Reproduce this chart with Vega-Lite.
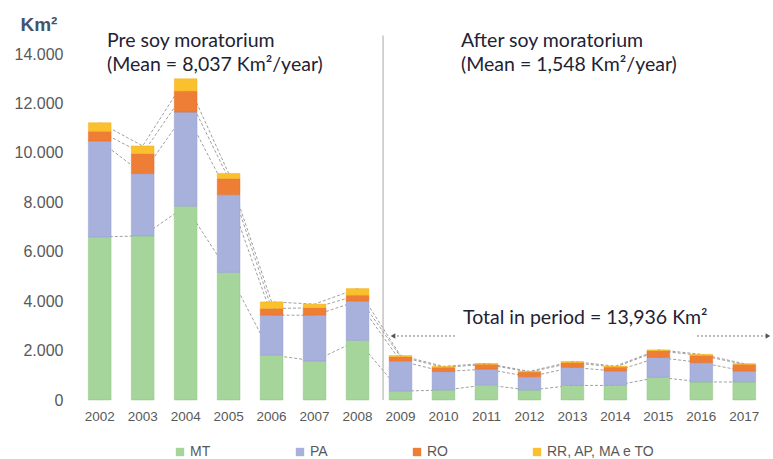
{
  "$schema": "https://vega.github.io/schema/vega-lite/v6.json",
  "width": 700,
  "height": 346,
  "autosize": "none",
  "padding": {"left": 72, "top": 54, "right": 1, "bottom": 59},
  "background": "#ffffff",
  "config": {
    "view": {"stroke": null},
    "font": "Liberation Sans",
    "axis": {"labelColor": "#595959", "labelFont": "Liberation Sans"}
  },
  "data": {
    "values": [
      {"year": "2002", "region": "MT", "k": 1, "value": 6600},
      {"year": "2002", "region": "PA", "k": 2, "value": 3880},
      {"year": "2002", "region": "RO", "k": 3, "value": 390},
      {"year": "2002", "region": "RR, AP, MA e TO", "k": 4, "value": 350},
      {"year": "2003", "region": "MT", "k": 1, "value": 6640},
      {"year": "2003", "region": "PA", "k": 2, "value": 2520},
      {"year": "2003", "region": "RO", "k": 3, "value": 810},
      {"year": "2003", "region": "RR, AP, MA e TO", "k": 4, "value": 310},
      {"year": "2004", "region": "MT", "k": 1, "value": 7840},
      {"year": "2004", "region": "PA", "k": 2, "value": 3810},
      {"year": "2004", "region": "RO", "k": 3, "value": 850},
      {"year": "2004", "region": "RR, AP, MA e TO", "k": 4, "value": 500},
      {"year": "2005", "region": "MT", "k": 1, "value": 5160},
      {"year": "2005", "region": "PA", "k": 2, "value": 3150},
      {"year": "2005", "region": "RO", "k": 3, "value": 650},
      {"year": "2005", "region": "RR, AP, MA e TO", "k": 4, "value": 210},
      {"year": "2006", "region": "MT", "k": 1, "value": 1820},
      {"year": "2006", "region": "PA", "k": 2, "value": 1610},
      {"year": "2006", "region": "RO", "k": 3, "value": 270},
      {"year": "2006", "region": "RR, AP, MA e TO", "k": 4, "value": 270},
      {"year": "2007", "region": "MT", "k": 1, "value": 1580},
      {"year": "2007", "region": "PA", "k": 2, "value": 1850},
      {"year": "2007", "region": "RO", "k": 3, "value": 300},
      {"year": "2007", "region": "RR, AP, MA e TO", "k": 4, "value": 150},
      {"year": "2008", "region": "MT", "k": 1, "value": 2410},
      {"year": "2008", "region": "PA", "k": 2, "value": 1590},
      {"year": "2008", "region": "RO", "k": 3, "value": 240},
      {"year": "2008", "region": "RR, AP, MA e TO", "k": 4, "value": 270},
      {"year": "2009", "region": "MT", "k": 1, "value": 360},
      {"year": "2009", "region": "PA", "k": 2, "value": 1220},
      {"year": "2009", "region": "RO", "k": 3, "value": 170},
      {"year": "2009", "region": "RR, AP, MA e TO", "k": 4, "value": 50},
      {"year": "2010", "region": "MT", "k": 1, "value": 400},
      {"year": "2010", "region": "PA", "k": 2, "value": 750},
      {"year": "2010", "region": "RO", "k": 3, "value": 170},
      {"year": "2010", "region": "RR, AP, MA e TO", "k": 4, "value": 40},
      {"year": "2011", "region": "MT", "k": 1, "value": 610},
      {"year": "2011", "region": "PA", "k": 2, "value": 640},
      {"year": "2011", "region": "RO", "k": 3, "value": 190},
      {"year": "2011", "region": "RR, AP, MA e TO", "k": 4, "value": 40},
      {"year": "2012", "region": "MT", "k": 1, "value": 400},
      {"year": "2012", "region": "PA", "k": 2, "value": 540},
      {"year": "2012", "region": "RO", "k": 3, "value": 190},
      {"year": "2012", "region": "RR, AP, MA e TO", "k": 4, "value": 30},
      {"year": "2013", "region": "MT", "k": 1, "value": 590},
      {"year": "2013", "region": "PA", "k": 2, "value": 730},
      {"year": "2013", "region": "RO", "k": 3, "value": 190},
      {"year": "2013", "region": "RR, AP, MA e TO", "k": 4, "value": 50},
      {"year": "2014", "region": "MT", "k": 1, "value": 590},
      {"year": "2014", "region": "PA", "k": 2, "value": 580},
      {"year": "2014", "region": "RO", "k": 3, "value": 160},
      {"year": "2014", "region": "RR, AP, MA e TO", "k": 4, "value": 40},
      {"year": "2015", "region": "MT", "k": 1, "value": 920},
      {"year": "2015", "region": "PA", "k": 2, "value": 800},
      {"year": "2015", "region": "RO", "k": 3, "value": 270},
      {"year": "2015", "region": "RR, AP, MA e TO", "k": 4, "value": 40},
      {"year": "2016", "region": "MT", "k": 1, "value": 730},
      {"year": "2016", "region": "PA", "k": 2, "value": 780},
      {"year": "2016", "region": "RO", "k": 3, "value": 290},
      {"year": "2016", "region": "RR, AP, MA e TO", "k": 4, "value": 50},
      {"year": "2017", "region": "MT", "k": 1, "value": 730},
      {"year": "2017", "region": "PA", "k": 2, "value": 440},
      {"year": "2017", "region": "RO", "k": 3, "value": 270},
      {"year": "2017", "region": "RR, AP, MA e TO", "k": 4, "value": 30}
    ]
  },
  "transform": [
    {"stack": "value", "groupby": ["year"], "sort": [{"field": "k", "order": "ascending"}], "as": ["v0", "v1"]}
  ],
  "encoding": {
    "x": {
      "field": "year", "type": "ordinal", "title": null,
      "scale": {
        "domain": ["2002", "2003", "2004", "2005", "2006", "2007", "2008", "2009", "2010", "2011", "2012", "2013", "2014", "2015", "2016", "2017"],
        "paddingInner": 0.47, "paddingOuter": 0.38
      },
      "axis": {"domain": false, "ticks": false, "labelAngle": 0, "labelFontSize": 13.5, "labelPadding": 9, "labelFontWeight": "normal"}
    }
  },
  "layer": [
    {
      "data": {"values": [{}]},
      "mark": {"type": "rule", "color": "#c4c4c4", "strokeWidth": 1.5},
      "encoding": {
        "x": {"datum": "2008", "type": "ordinal", "bandPosition": 1.62},
        "y": {"datum": 0, "type": "quantitative"},
        "y2": {"datum": 14750}
      }
    },
    {
      "mark": {"type": "line", "color": "#a0a0a0", "strokeWidth": 1, "strokeDash": [3, 2]},
      "encoding": {
        "y": {"field": "v1", "type": "quantitative"},
        "detail": {"field": "region"}
      }
    },
    {
      "mark": {"type": "bar", "strokeWidth": 0.8, "strokeOpacity": 0.5, "opacity": 1},
      "encoding": {
        "y": {
          "field": "v0", "type": "quantitative",
          "scale": {"domain": [0, 14000], "nice": false},
          "axis": {
            "values": [0, 2000, 4000, 6000, 8000, 10000, 12000, 14000],
            "labelExpr": "replace(format(datum.value, ','), ',', '.')",
            "domain": false, "ticks": false, "labelFontSize": 16, "labelPadding": 9,
            "gridColor": "#e4e4e4", "gridWidth": 1.2,
            "title": "Km²", "titleAngle": 0, "titleAlign": "left", "titleBaseline": "middle",
            "titleX": -52, "titleY": -30, "titleFontSize": 19, "titleFontWeight": "bold",
            "titleColor": "#44546a", "titleFont": "Liberation Sans"
          }
        },
        "y2": {"field": "v1"},
        "color": {
          "field": "region", "type": "nominal",
          "scale": {
            "domain": ["MT", "PA", "RO", "RR, AP, MA e TO"],
            "range": ["#a6d59c", "#a8b0dc", "#ee7d35", "#fbc02d"]
          },
          "legend": {
            "title": null, "orient": "none", "direction": "horizontal", "columns": 4,
            "legendX": 101, "legendY": 391, "gridAlign": "each", "columnPadding": 82,
            "symbolType": "square", "symbolSize": 70, "symbolStrokeWidth": 0,
            "labelFontSize": 14, "labelColor": "#595959", "labelOffset": 3, "labelFont": "Liberation Sans"
          }
        },
        "stroke": {
          "field": "region", "type": "nominal", "legend": null,
          "scale": {
            "domain": ["MT", "PA", "RO", "RR, AP, MA e TO"],
            "range": ["#84c07a", "#8c98cf", "#e06a20", "#f0b020"]
          }
        }
      }
    },
    {
      "data": {"values": [{}]},
      "mark": {"type": "rule", "color": "#7a7a7a", "strokeWidth": 1, "strokeDash": [2, 2]},
      "encoding": {
        "x": {"datum": "2009", "type": "ordinal", "bandPosition": 0.17},
        "x2": {"datum": "2017", "bandPosition": 1.54},
        "y": {"datum": 2590, "type": "quantitative"}
      }
    },
    {
      "data": {"values": [{}]},
      "mark": {"type": "point", "shape": "triangle-left", "filled": true, "color": "#555555", "size": 28, "opacity": 1},
      "encoding": {
        "x": {"datum": "2009", "type": "ordinal", "bandPosition": 0.17},
        "y": {"datum": 2590, "type": "quantitative"}
      }
    },
    {
      "data": {"values": [{}]},
      "mark": {"type": "point", "shape": "triangle-right", "filled": true, "color": "#555555", "size": 28, "opacity": 1},
      "encoding": {
        "x": {"datum": "2017", "type": "ordinal", "bandPosition": 1.54},
        "y": {"datum": 2590, "type": "quantitative"}
      }
    },
    {
      "data": {"values": [{}]},
      "mark": {"type": "rect", "color": "#ffffff"},
      "encoding": {
        "x": {"datum": "2002", "type": "ordinal", "bandPosition": 0.51},
        "x2": {"datum": "2007", "bandPosition": 0.82},
        "y": {"datum": 13190, "type": "quantitative"},
        "y2": {"datum": 14730}
      }
    },
    {
      "data": {"values": [{}]},
      "mark": {"type": "rect", "color": "#ffffff"},
      "encoding": {
        "x": {"datum": "2010", "type": "ordinal", "bandPosition": 1.09},
        "x2": {"datum": "2016", "bandPosition": 0.09},
        "y": {"datum": 13190, "type": "quantitative"},
        "y2": {"datum": 14730}
      }
    },
    {
      "data": {"values": [{}]},
      "mark": {"type": "rect", "color": "#ffffff"},
      "encoding": {
        "x": {"datum": "2010", "type": "ordinal", "bandPosition": 1.0},
        "x2": {"datum": "2016", "bandPosition": 0.31},
        "y": {"datum": 2500, "type": "quantitative"},
        "y2": {"datum": 3760}
      }
    },
    {
      "data": {"values": [{}]},
      "mark": {"type": "text", "text": ["Pre soy moratorium", "(Mean = 8,037 Km²/year)"], "align": "left", "baseline": "alphabetic", "font": "Lato", "fontSize": 19.5, "lineHeight": 24, "color": "#222233"},
      "encoding": {
        "x": {"datum": "2002", "type": "ordinal", "bandPosition": 0.82},
        "y": {"datum": 14280, "type": "quantitative"}
      }
    },
    {
      "data": {"values": [{}]},
      "mark": {"type": "text", "text": ["After soy moratorium", "(Mean = 1,548 Km²/year)"], "align": "left", "baseline": "alphabetic", "font": "Lato", "fontSize": 19.5, "lineHeight": 24, "color": "#222233"},
      "encoding": {
        "x": {"datum": "2010", "type": "ordinal", "bandPosition": 1.27},
        "y": {"datum": 14280, "type": "quantitative"}
      }
    },
    {
      "data": {"values": [{}]},
      "mark": {"type": "text", "text": "Total in period = 13,936 Km²", "align": "left", "baseline": "alphabetic", "font": "Lato", "fontSize": 19.5, "color": "#222233"},
      "encoding": {
        "x": {"datum": "2010", "type": "ordinal", "bandPosition": 1.36},
        "y": {"datum": 3075, "type": "quantitative"}
      }
    }
  ]
}
